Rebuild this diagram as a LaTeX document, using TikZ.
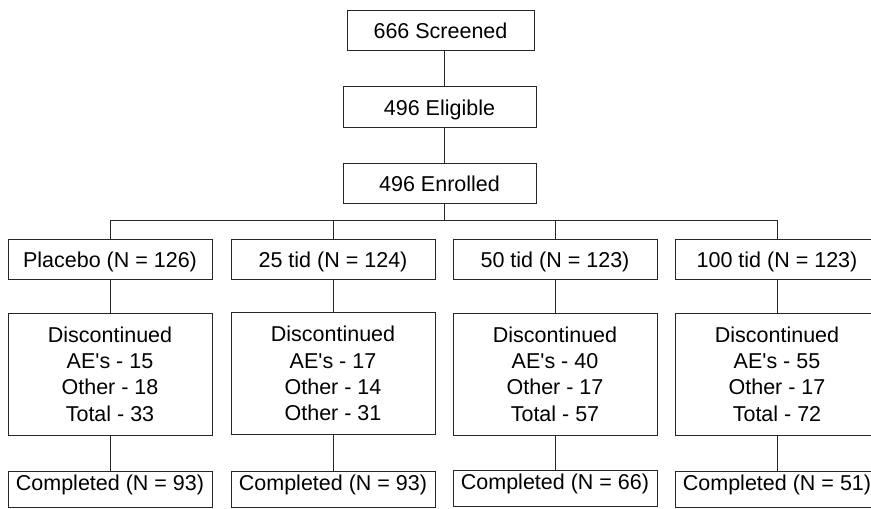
\documentclass[tikz,border=0pt]{standalone}
\usepackage{fontspec}
\setmainfont{Liberation Sans}
\newcommand{\apo}{\textquotesingle}
\begin{document}
\begin{tikzpicture}[x=1pt,y=-1pt,
  base/.style={draw=black!85, line width=0.9pt, inner sep=0pt, font=\fontsize{21.5pt}{26.3pt}\selectfont, align=center},
  single/.style={base, text height=19pt, text depth=1.6pt},
  topbox/.style={single, minimum width=193pt, minimum height=40pt},
  grp/.style={single, minimum width=204pt, minimum height=40pt},
  disc/.style={base, minimum width=204pt, minimum height=122pt},
  comp/.style={base, anchor=north, minimum width=204pt, inner xsep=0pt, inner ysep=4pt, text height=15pt, text depth=13pt},
  conn/.style={draw=black!85, line width=0.9pt}]
\useasboundingbox (0,0) rectangle (871,509);
\clip (0,0) rectangle (871,509);
\fill[white] (0,0) rectangle (871,509);
\node[topbox, minimum width=187pt] (scr) at (440.5,30) {666 Screened};
\node[topbox, minimum height=41pt] (eli) at (439.5,106.5) {496 Eligible};
\node[topbox] (enr) at (439.5,183) {496 Enrolled};
\coordinate (bus) at (444,220);
\node[grp] (g1) at (110,259) {Placebo (N = 126)};
\node[grp] (g2) at (333,259) {25 tid (N = 124)};
\node[grp] (g3) at (555,259) {50 tid (N = 123)};
\node[grp] (g4) at (777,259) {100 tid (N = 123)};
\node[disc] (d1) at (110,374) {Discontinued\\AE\apo s - 15\\Other - 18\\Total - 33};
\node[disc] (d2) at (333,373.5) {Discontinued\\AE\apo s - 17\\Other - 14\\Other - 31};
\node[disc] (d3) at (555,374) {Discontinued\\AE\apo s - 40\\Other - 17\\Total - 57};
\node[disc] (d4) at (777,374) {Discontinued\\AE\apo s - 55\\Other - 17\\Total - 72};
\node[comp] (c1) at (110,471) {Completed (N = 93)};
\node[comp] (c2) at (333,471) {Completed (N = 93)};
\node[comp] (c3) at (555,470) {Completed (N = 66)};
\node[comp] (c4) at (777,471) {Completed (N = 51)};
\draw[conn] (scr.south -| bus) -- (eli.north -| bus);
\draw[conn] (eli.south -| bus) -- (enr.north -| bus);
\draw[conn] (enr.south -| bus) -- (bus);
\draw[conn] (g1.north |- bus) -- (g4.north |- bus);
\foreach \i in {1,2,3,4}{
  \draw[conn] (g\i.north |- bus) -- (g\i.north);
  \draw[conn] (g\i.south) -- (d\i.north);
  \draw[conn] (d\i.south) -- (c\i.north);
}
\end{tikzpicture}
\end{document}
